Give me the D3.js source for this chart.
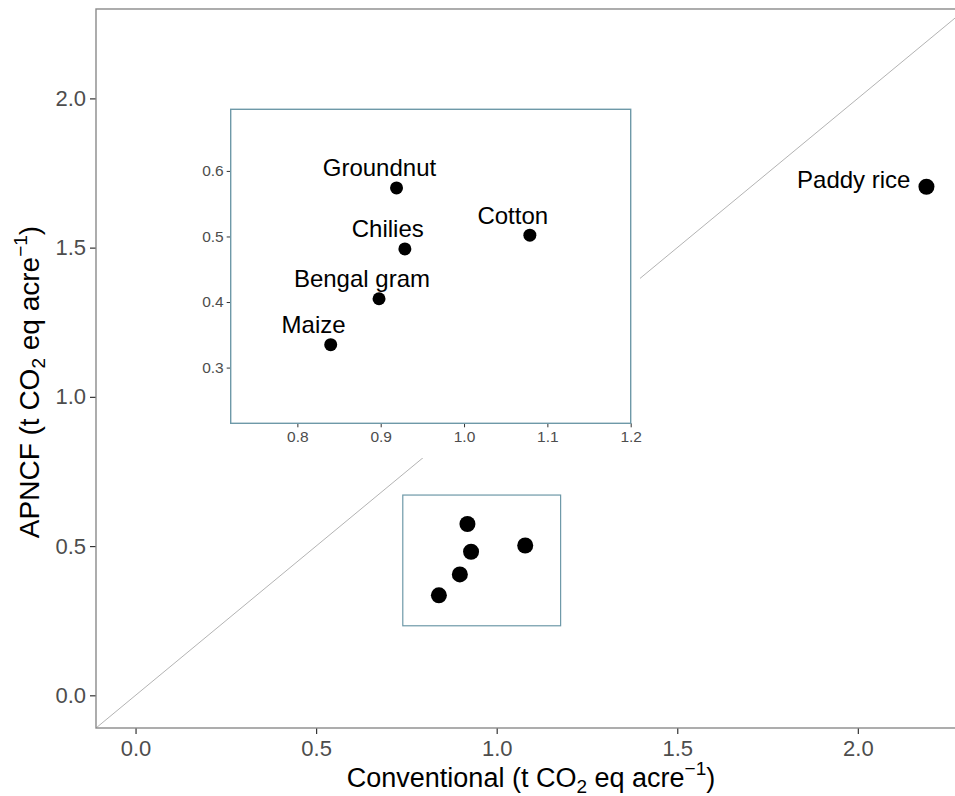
<!DOCTYPE html>
<html>
<head>
<meta charset="utf-8">
<script src="https://cdn.jsdelivr.net/npm/d3@7"></script>
<style>
  body { margin: 0; background: #fff; }
  svg { display: block; overflow: hidden; font-family: "Liberation Sans", Arial, sans-serif; }
</style>
</head>
<body>
<svg id="chart" width="955" height="796"></svg>
<script>
// crop emissions, t CO2 eq per acre
let crops = ["Paddy rice", "Cotton", "Groundnut", "Chilies", "Bengal gram", "Maize"];
let conventional = [2.19, 1.079, 0.919, 0.929, 0.898, 0.840];
let apncf = [1.704, 0.502, 0.574, 0.481, 0.405, 0.335];

let mainTicks = [0, 0.5, 1.0, 1.5, 2.0];
let insetXTicks = [0.8, 0.9, 1.0, 1.1, 1.2];
let insetYTicks = [0.3, 0.4, 0.5, 0.6];

// region shown magnified in the inset
let zoomX = [0.74, 1.177];
let zoomY = [0.233, 0.671];
let insetXDomain = [0.72, 1.2];
let insetYDomain = [0.215, 0.694];

let data = crops.map((c, i) => ({ crop: c, x: conventional[i], y: apncf[i] }));

let svg = d3.select("#chart");
let tickGrey = "#4d4d4d";
let insetStroke = "#6e99a8";

//#region main panel
let panel = { left: 96, right: 966, top: 9, bottom: 728 };
let lim = [-0.1095, 2.2995];
let x = d3.scaleLinear().domain(lim).range([panel.left, panel.right]);
let y = d3.scaleLinear().domain(lim).range([panel.bottom, panel.top]);

// 1:1 line
svg.append("line")
    .attr("x1", x(lim[0])).attr("y1", y(lim[0]))
    .attr("x2", x(lim[1])).attr("y2", y(lim[1]))
    .attr("stroke", "#b3b3b3")
    .attr("stroke-width", 1);

svg.append("rect")
    .attr("x", x(zoomX[0])).attr("y", y(zoomY[1]))
    .attr("width", x(zoomX[1]) - x(zoomX[0]))
    .attr("height", y(zoomY[0]) - y(zoomY[1]))
    .attr("fill", "none")
    .attr("stroke", insetStroke)
    .attr("stroke-width", 1.2);

svg.append("g").selectAll("circle")
    .data(data)
    .join("circle")
    .attr("cx", d => x(d.x))
    .attr("cy", d => y(d.y))
    .attr("r", 8)
    .attr("fill", "#000");

// label only the point outside the magnified box
svg.append("g").selectAll("text")
    .data(data.filter(d => d.x > zoomX[1]))
    .join("text")
    .attr("x", d => x(d.x) - 16)
    .attr("y", d => y(d.y) + 1.5)
    .attr("text-anchor", "end")
    .attr("font-size", 24)
    .attr("fill", "#000")
    .text(d => d.crop);

let xAxis = d3.axisBottom(x).tickValues(mainTicks).tickFormat(d3.format(".1f"))
    .tickSize(6).tickSizeOuter(0).tickPadding(6);
let yAxis = d3.axisLeft(y).tickValues(mainTicks).tickFormat(d3.format(".1f"))
    .tickSize(6).tickSizeOuter(0).tickPadding(4);

let gx = svg.append("g").attr("transform", `translate(0,${panel.bottom})`).call(xAxis);
let gy = svg.append("g").attr("transform", `translate(${panel.left},0)`).call(yAxis);
[gx, gy].forEach(g => {
    g.select(".domain").remove();
    g.selectAll(".tick line").attr("stroke", "#333").attr("stroke-width", 1.2);
    g.selectAll(".tick text").attr("fill", tickGrey).attr("font-size", 22);
    g.attr("font-family", null);
});

// panel border
svg.append("rect")
    .attr("x", panel.left).attr("y", panel.top)
    .attr("width", panel.right - panel.left)
    .attr("height", panel.bottom - panel.top)
    .attr("fill", "none")
    .attr("stroke", "#8a8a8a")
    .attr("stroke-width", 1.4);
//#endregion

//#region inset
let inset = { left: 230.7, right: 630.7, top: 109.3, bottom: 423.3 };
let ix = d3.scaleLinear().domain(insetXDomain).range([inset.left, inset.right]);
let iy = d3.scaleLinear().domain(insetYDomain).range([inset.bottom, inset.top]);

// white backing of the inset plot (covers the 1:1 line)
svg.append("rect")
    .attr("x", 185).attr("y", 100)
    .attr("width", 640 - 185).attr("height", 458 - 100)
    .attr("fill", "#fff");

let inData = data.filter(d => d.x >= insetXDomain[0] && d.x <= insetXDomain[1]
    && d.y >= insetYDomain[0] && d.y <= insetYDomain[1]);

svg.append("g").selectAll("circle")
    .data(inData)
    .join("circle")
    .attr("cx", d => ix(d.x))
    .attr("cy", d => iy(d.y))
    .attr("r", 6.5)
    .attr("fill", "#000");

// labels sit just above and a little left of each point
svg.append("g").selectAll("text")
    .data(inData)
    .join("text")
    .attr("x", d => ix(d.x - 0.0205))
    .attr("y", d => iy(d.y) - 11.5)
    .attr("text-anchor", "middle")
    .attr("font-size", 24)
    .attr("fill", "#000")
    .text(d => d.crop);

let ixAxis = d3.axisBottom(ix).tickValues(insetXTicks).tickFormat(d3.format(".1f"))
    .tickSize(4).tickSizeOuter(0).tickPadding(4);
let iyAxis = d3.axisLeft(iy).tickValues(insetYTicks).tickFormat(d3.format(".1f"))
    .tickSize(4).tickSizeOuter(0).tickPadding(3);

let gix = svg.append("g").attr("transform", `translate(0,${inset.bottom})`).call(ixAxis);
let giy = svg.append("g").attr("transform", `translate(${inset.left},0)`).call(iyAxis);
[gix, giy].forEach(g => {
    g.select(".domain").remove();
    g.selectAll(".tick line").attr("stroke", "#333").attr("stroke-width", 1);
    g.selectAll(".tick text").attr("fill", tickGrey).attr("font-size", 15.5);
    g.attr("font-family", null);
});

svg.append("rect")
    .attr("x", inset.left).attr("y", inset.top)
    .attr("width", inset.right - inset.left)
    .attr("height", inset.bottom - inset.top)
    .attr("fill", "none")
    .attr("stroke", insetStroke)
    .attr("stroke-width", 1.4);
//#endregion

//#region axis titles
function unitTitle(t, lead) {
    t.append("tspan").text(lead + " (t CO");
    t.append("tspan").attr("font-size", 19).attr("dy", 6).text("2");
    t.append("tspan").attr("dy", -6).text(" eq acre");
    t.append("tspan").attr("font-size", 19).attr("dy", -12).text("\u22121");
    t.append("tspan").attr("dy", 12).text(")");
}

let xt = svg.append("text")
    .attr("x", (panel.left + panel.right) / 2)
    .attr("y", 787)
    .attr("text-anchor", "middle")
    .attr("font-size", 27)
    .attr("fill", "#000");
unitTitle(xt, "Conventional");

let yt = svg.append("text")
    .attr("transform", "rotate(-90)")
    .attr("x", -382)
    .attr("y", 39)
    .attr("text-anchor", "middle")
    .attr("font-size", 28)
    .attr("fill", "#000");
unitTitle(yt, "APNCF");
//#endregion
</script>
</body>
</html>
